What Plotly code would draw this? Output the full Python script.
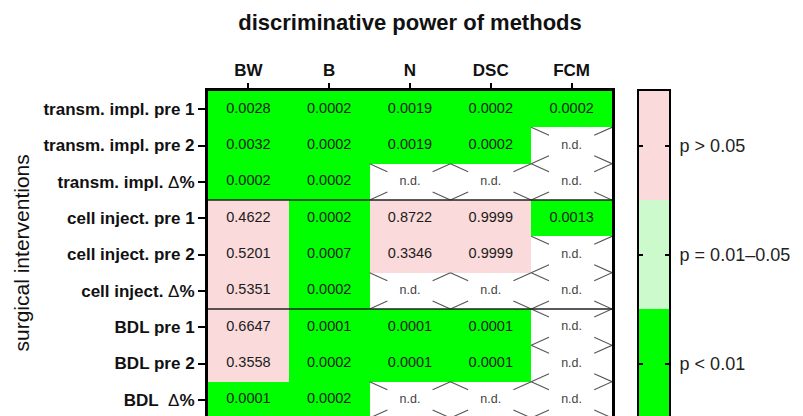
import plotly.graph_objects as go

# ---- data -------------------------------------------------------------
methods = ["BW", "B", "N", "DSC", "FCM"]
interventions = [
    "transm. impl. pre 1",
    "transm. impl. pre 2",
    "transm. impl. Δ%",
    "cell inject. pre 1",
    "cell inject. pre 2",
    "cell inject. Δ%",
    "BDL pre 1",
    "BDL pre 2",
    "BDL  Δ%",
]
# p values per intervention (rows) and method (columns); None = not determined
p_transm_pre1 = [0.0028, 0.0002, 0.0019, 0.0002, 0.0002]
p_transm_pre2 = [0.0032, 0.0002, 0.0019, 0.0002, None]
p_transm_delta = [0.0002, 0.0002, None, None, None]
p_cell_pre1 = [0.4622, 0.0002, 0.8722, 0.9999, 0.0013]
p_cell_pre2 = [0.5201, 0.0007, 0.3346, 0.9999, None]
p_cell_delta = [0.5351, 0.0002, None, None, None]
p_bdl_pre1 = [0.6647, 0.0001, 0.0001, 0.0001, None]
p_bdl_pre2 = [0.3558, 0.0002, 0.0001, 0.0001, None]
p_bdl_delta = [0.0001, 0.0002, None, None, None]
p_values = [p_transm_pre1, p_transm_pre2, p_transm_delta,
            p_cell_pre1, p_cell_pre2, p_cell_delta,
            p_bdl_pre1, p_bdl_pre2, p_bdl_delta]

legend_labels = ["p > 0.05", "p = 0.01–0.05", "p < 0.01"]
legend_classes = [2, 1, 0]
group_breaks = [2.5, 5.5]

# ---- styling ----------------------------------------------------------
GREEN = "#00ff00"
LIGHT_GREEN = "#ccfacc"
PINK = "#fadada"
FONT = "Arial, Liberation Sans, sans-serif"
colorscale = [[0.0, GREEN], [0.25, GREEN], [0.25, LIGHT_GREEN],
              [0.75, LIGHT_GREEN], [0.75, PINK], [1.0, PINK]]

W, H = 803, 416
TOP = 91            # top edge of the grid in px
ROW_PX = (418 - TOP) / 9
y_lo = -0.5 + (H - TOP) / ROW_PX   # lower end of visible range (rows)


def p_class(p):
    if p is None:
        return None
    if p < 0.01:
        return 0
    if p <= 0.05:
        return 1
    return 2


z = [[p_class(p) for p in row] for row in p_values]

fig = go.Figure()

fig.add_trace(go.Heatmap(
    z=z, x=list(range(len(methods))), y=list(range(len(interventions))),
    colorscale=colorscale, zmin=0, zmax=2, showscale=False,
    hoverongaps=False, xaxis="x", yaxis="y",
))

# corner strokes for the "not determined" cells
frac = 0.44
hx, hy = [], []
for r, row in enumerate(p_values):
    for c, p in enumerate(row):
        if p is not None:
            continue
        for dx in (-0.5, 0.5):
            for dy in (-0.5, 0.5):
                hx += [c + dx, c + dx * (1 - frac), None]
                hy += [r + dy, r + dy * (1 - frac), None]
fig.add_trace(go.Scatter(
    x=hx, y=hy, mode="lines", line=dict(color="#555555", width=1.1),
    hoverinfo="skip", showlegend=False, xaxis="x", yaxis="y",
))

# cell labels
tx, ty, tt, ts, tc = [], [], [], [], []
for r, row in enumerate(p_values):
    for c, p in enumerate(row):
        tx.append(c)
        ty.append(r)
        if p is None:
            tt.append("n.d.")
            ts.append(12.5)
            tc.append("#444444")
        else:
            tt.append(f"{p:.4f}")
            ts.append(14.5)
            tc.append("#1c1c1c")
fig.add_trace(go.Scatter(
    x=tx, y=ty, text=tt, mode="text",
    textfont=dict(family=FONT, size=ts, color=tc),
    hoverinfo="skip", showlegend=False, xaxis="x", yaxis="y",
))

# colour key
fig.add_trace(go.Heatmap(
    z=[[k] for k in legend_classes], x=[0], y=list(range(len(legend_classes))),
    colorscale=colorscale, zmin=0, zmax=2, showscale=False,
    hoverinfo="skip", xaxis="x2", yaxis="y2",
))


def bold_label(s):
    parts = s.split("Δ")
    if len(parts) == 1:
        return f"<b>{s}</b>"
    head = parts[0].replace("  ", "\u00a0\u00a0")
    return f"<b>{head}</b>Δ<b>{parts[1]}</b>"


fig.update_layout(
    width=W, height=H,
    margin=dict(l=0, r=0, t=TOP, b=0, pad=0),
    paper_bgcolor="white", plot_bgcolor="white",
    showlegend=False,
    font=dict(family=FONT, color="black"),
    title=dict(
        text="<b>discriminative power of methods</b>",
        font=dict(family=FONT, size=22, color="#111111"),
        x=410 / W, xanchor="center", xref="paper",
        y=1 - 22 / H, yanchor="middle", yref="container",
    ),
    xaxis=dict(
        domain=[208 / W, 612 / W], range=[-0.5, 4.5], side="top",
        tickvals=list(range(len(methods))),
        ticktext=[f"<b>{m}</b>" for m in methods],
        tickfont=dict(family=FONT, size=17, color="#111111"),
        ticks="outside", ticklen=5, tickwidth=2, tickcolor="black",
        showline=True, linewidth=3, linecolor="black", mirror=False,
        showgrid=False, zeroline=False, fixedrange=True,
        anchor="y",
    ),
    yaxis=dict(
        domain=[0, 1], range=[y_lo, -0.5],
        tickvals=list(range(len(interventions))),
        ticktext=[bold_label(s) for s in interventions],
        tickfont=dict(family=FONT, size=17, color="#111111"),
        ticks="outside", ticklen=7, tickwidth=2, tickcolor="black",
        showline=True, linewidth=3, linecolor="black", mirror=True,
        showgrid=False, zeroline=False, fixedrange=True,
        anchor="x",
    ),
    xaxis2=dict(
        domain=[639 / W, 669 / W], range=[-0.5, 0.5], side="top",
        showticklabels=False, ticks="",
        showline=True, linewidth=2, linecolor="black",
        showgrid=False, zeroline=False, anchor="y2", fixedrange=True,
    ),
    yaxis2=dict(
        domain=[0, 1], range=[(y_lo + 0.5) / 3 - 0.5, -0.5], side="right",
        tickvals=list(range(len(legend_labels))), ticktext=legend_labels,
        tickfont=dict(family=FONT, size=18, color="#222222"),
        ticks="inside", ticklen=4, tickwidth=2, tickcolor="black",
        ticklabelstandoff=5,
        showline=True, linewidth=2, linecolor="black", mirror="ticks",
        showgrid=False, zeroline=False, anchor="x2", fixedrange=True,
    ),
    annotations=[dict(
        text="surgical interventions", textangle=-90,
        x=21 / W, xref="paper", xanchor="center",
        y=0.5, yref="paper", yanchor="middle", showarrow=False,
        font=dict(family=FONT, size=21, color="#111111"),
    )],
    shapes=[dict(type="line", xref="x", yref="y", x0=-0.5, x1=4.5,
                 y0=b, y1=b, line=dict(color="#222222", width=1.5))
            for b in group_breaks],
)

fig.write_html("out.html")
